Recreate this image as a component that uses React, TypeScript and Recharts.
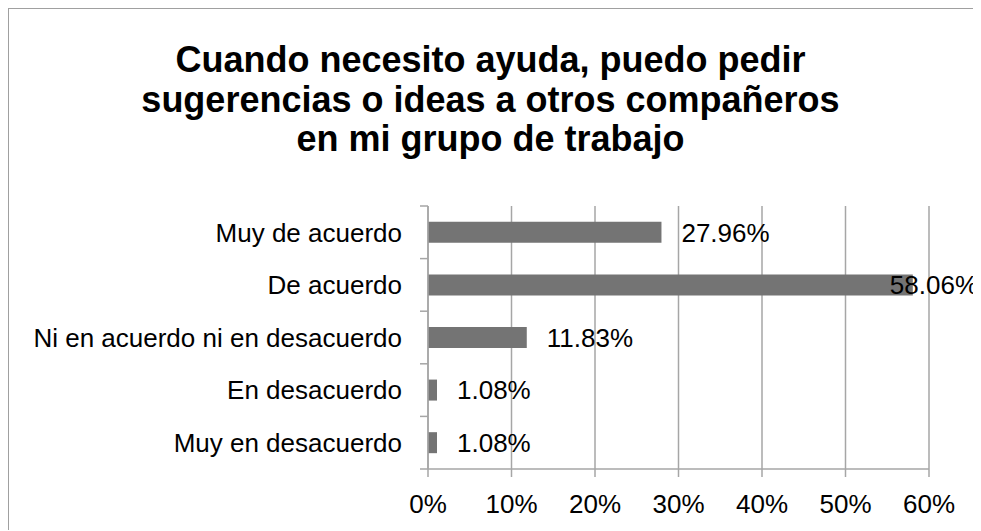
import { Bar, BarChart, CartesianGrid, LabelList, XAxis, YAxis } from "recharts";

const categories = [
  "Muy de acuerdo",
  "De acuerdo",
  "Ni en acuerdo ni en desacuerdo",
  "En desacuerdo",
  "Muy en desacuerdo",
];
const percentages = [27.96, 58.06, 11.83, 1.08, 1.08];
const xTicks = [0, 10, 20, 30, 40, 50, 60];
const titleLines = [
  "Cuando necesito ayuda, puedo pedir",
  "sugerencias o ideas a otros compañeros",
  "en mi grupo de trabajo",
];

const data = categories.map((category, i) => ({ category, value: percentages[i] }));

const W = 973;
const H = 523;
const margin = { top: 198, right: 52, left: 0, bottom: 12 };
const yAxisWidth = 420;
const xAxisHeight = 50;
const plotHeight = H - margin.top - margin.bottom - xAxisHeight;

const FONT = "'Liberation Sans', Arial, sans-serif";
const GRID = "#a6a6a6";
const BAR = "#747474";
const TICK_SIZE = 8;
const TICK_MARGIN = 18;

// Category tick: label plus Excel-style tick marks between categories
function CategoryTick(props: any) {
  const { x, y, payload, index } = props;
  const half = payload?.offset || plotHeight / categories.length / 2;
  const lineX2 = x + TICK_MARGIN + TICK_SIZE;
  const lineX1 = x + TICK_MARGIN;
  return (
    <g>
      <line x1={lineX1} x2={lineX2} y1={y - half} y2={y - half} stroke={GRID} strokeWidth={1.5} />
      {index === categories.length - 1 && (
        <line x1={lineX1} x2={lineX2} y1={y + half} y2={y + half} stroke={GRID} strokeWidth={1.5} />
      )}
      <text x={x} y={y} dy="0.36em" textAnchor="end" fontSize={26} fill="#000" fontFamily={FONT}>
        {payload.value}
      </text>
    </g>
  );
}

function ValueLabel(props: any) {
  const { x, y, width, height, value } = props;
  const text = `${Number(value).toFixed(2)}%`;
  const est = text.length * 26 * 0.56;
  let lx = x + width + 20;
  let anchor: "start" | "end" = "start";
  if (lx + est > W - 3) {
    lx = W - 3;
    anchor = "end";
  }
  return (
    <text x={lx} y={y + height / 2} dy="0.36em" textAnchor={anchor} fontSize={26} fill="#000" fontFamily={FONT}>
      {text}
    </text>
  );
}

export default function App() {
  return (
    <div style={{ position: "relative", width: W, height: H, fontFamily: FONT }}>
      <div
        style={{
          position: "absolute",
          left: -1,
          top: -1,
          width: W,
          height: H,
          borderLeft: "2px solid #a0a0a0",
          borderTop: "2px solid #a0a0a0",
          boxSizing: "border-box",
        }}
      />
      <div
        style={{
          position: "absolute",
          left: 0,
          top: 32,
          width: 965,
          textAlign: "center",
          fontSize: 36,
          fontWeight: "bold",
          lineHeight: "39.5px",
          color: "#000",
        }}
      >
        {titleLines.map((t) => (
          <div key={t}>{t}</div>
        ))}
      </div>
      <div style={{ position: "absolute", left: 0, top: 0 }}>
        <BarChart
          width={W}
          height={H}
          data={data}
          layout="vertical"
          margin={margin}
          barCategoryGap="30%"
          style={{ fontFamily: FONT }}
        >
          <CartesianGrid horizontal={false} stroke={GRID} strokeWidth={1.5} />
          <XAxis
            type="number"
            domain={[0, 60]}
            ticks={xTicks}
            interval={0}
            tickFormatter={(v) => `${v}%`}
            height={xAxisHeight}
            tickSize={TICK_SIZE}
            tickMargin={TICK_MARGIN}
            stroke={GRID}
            axisLine={{ stroke: GRID, strokeWidth: 1.5 }}
            tickLine={{ stroke: GRID, strokeWidth: 1.5 }}
            tick={{ fontSize: 26, fill: "#000", fontFamily: FONT }}
          />
          <YAxis
            type="category"
            dataKey="category"
            width={yAxisWidth}
            interval={0}
            tickSize={TICK_SIZE}
            tickMargin={TICK_MARGIN}
            tickLine={false}
            axisLine={{ stroke: GRID, strokeWidth: 1.5 }}
            tick={<CategoryTick />}
          />
          <Bar dataKey="value" fill={BAR} isAnimationActive={false}>
            <LabelList dataKey="value" content={<ValueLabel />} />
          </Bar>
        </BarChart>
      </div>
    </div>
  );
}
